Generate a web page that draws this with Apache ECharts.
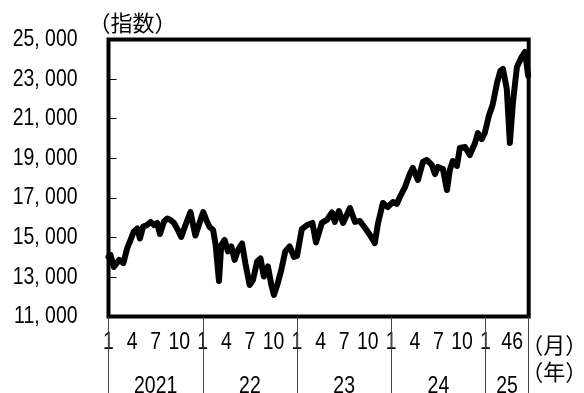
<!DOCTYPE html>
<html><head><meta charset="utf-8">
<script src="https://cdn.jsdelivr.net/npm/echarts@6/dist/echarts.min.js"></script>
<style>html,body{margin:0;padding:0;background:#fff}#c{width:584px;height:393px}</style>
</head><body><div id="c"></div>
<script>
const dates = [
'2021-01-01','2021-01-09','2021-01-22','2021-02-11','2021-02-26','2021-03-13','2021-03-26','2021-04-08','2021-04-21','2021-05-01',
'2021-05-14','2021-05-29','2021-06-12','2021-06-25','2021-07-07','2021-07-18','2021-08-03','2021-08-16','2021-08-29','2021-09-11',
'2021-09-26','2021-10-09','2021-10-26','2021-11-14','2021-12-03','2021-12-21','2022-01-03','2022-01-15','2022-01-28','2022-02-10',
'2022-02-19','2022-03-03','2022-03-12','2022-03-25','2022-04-07','2022-04-20','2022-05-03','2022-05-16','2022-06-01','2022-06-14',
'2022-06-30','2022-07-13','2022-07-30','2022-08-12','2022-08-25','2022-09-10','2022-09-23','2022-10-03','2022-10-16','2022-11-01',
'2022-11-16','2022-12-03','2022-12-20','2023-01-01','2023-01-20','2023-02-09','2023-02-28','2023-03-14','2023-04-06','2023-04-25',
'2023-05-15','2023-05-26','2023-06-11','2023-06-27','2023-07-24','2023-08-13','2023-09-01','2023-09-21','2023-10-10','2023-10-29',
'2023-11-10','2023-11-29','2023-12-18','2024-01-08','2024-01-23','2024-02-04','2024-02-23','2024-03-12','2024-03-24','2024-04-13',
'2024-05-02','2024-05-17','2024-06-06','2024-06-18','2024-06-29','2024-07-19','2024-08-04','2024-08-15','2024-08-27','2024-09-12',
'2024-09-23','2024-10-13','2024-11-01','2024-11-21','2024-12-02','2024-12-17','2024-12-29','2025-01-14','2025-01-29','2025-02-14',
'2025-02-26','2025-03-08','2025-03-23','2025-04-04','2025-04-16','2025-05-01','2025-05-20','2025-06-02','2025-06-14'
];
const values = [
14010,14110,13500,13860,13700,14460,14870,15300,15450,14940,
15550,15620,15780,15620,15730,15170,15800,15950,15880,15730,
15370,15020,15620,16280,15090,15800,16280,15880,15520,15370,
14610,12790,14610,14870,14290,14540,13860,14360,14690,13680,
12590,12840,13780,13930,13020,13530,12590,12090,12590,13350,
14290,14540,14010,14060,15420,15620,15730,14740,15730,15880,
16260,15780,16330,15730,16480,15780,15830,15470,15120,14710,
15680,16740,16530,16790,16690,17040,17550,18200,18510,17900,
18810,18910,18660,18200,18560,18450,17390,18400,18860,18610,
19520,19570,19160,19770,20270,19970,20270,21130,21690,22800,
23410,23510,22500,19770,21840,23610,24120,24370,23160
];
const yTicks = [11000,13000,15000,17000,19000,21000,23000,25000];
const yTickLabels = ['11, 000','13, 000','15, 000','17, 000','19, 000','21, 000','23, 000','25, 000'];
const monthTicks = ['2021-01','2021-04','2021-07','2021-10','2022-01','2022-04','2022-07','2022-10',
  '2023-01','2023-04','2023-07','2023-10','2024-01','2024-04','2024-07','2024-10','2025-01','2025-04','2025-06'];
const monthLabels = ['1','4','7','10','1','4','7','10','1','4','7','10','1','4','7','10','1','4','6'];
const yearStarts = ['2021-01','2022-01','2023-01','2024-01','2025-01'];
const yearLabels = ['2021','22','23','24','25'];
const rangeStart = '2021-01-01', rangeEnd = '2025-06-16';

function toM(s){
  const p = s.split('-').map(Number);
  const y = p[0], m = p[1], d = p[2] || 1;
  const dim = new Date(y, m, 0).getDate();
  return (y-2021)*12 + (m-1) + (d-1)/dim;
}
const xMin = toM(rangeStart), xMax = toM(rangeEnd);
const seriesData = dates.map((d,i)=>[toM(d), values[i]]);
const monthPos = monthTicks.map(toM);
const yearPos = yearStarts.map(toM);
const yearBounds = yearPos.concat([xMax]);
const yearMid = yearPos.map((p,i)=> (p + yearBounds[i+1])/2);

const NUM = "'Liberation Sans Narrow','Liberation Sans',Arial,sans-serif";
const CJK = "'Noto Sans CJK JP',sans-serif";
const SX = 0.81;

const chart = echarts.init(document.getElementById('c'), null, {renderer:'canvas'});
chart.setOption({
  animation:false,
  backgroundColor:'#fff',
  grid:{left:108.5, right:55.3, top:39.5, bottom:76.5, show:true, borderColor:'#000', borderWidth:4, backgroundColor:'transparent'},
  xAxis:[{
    type:'value', min:xMin, max:xMax, position:'bottom',
    axisLine:{show:false}, splitLine:{show:false}, axisTick:{show:false}, axisLabel:{show:false}
  },{
    type:'value', min:xMin, max:xMax, position:'bottom',
    axisLine:{show:false}, splitLine:{show:false},
    axisTick:{show:true, customValues:yearBounds, length:80, lineStyle:{color:'#444', width:1}},
    axisLabel:{show:false}
  }],
  yAxis:{
    type:'value', min:yTicks[0], max:yTicks[yTicks.length-1], interval:yTicks[1]-yTicks[0],
    axisLine:{show:false}, splitLine:{show:false},
    axisTick:{show:true, inside:true, length:8, lineStyle:{color:'#000', width:1}},
    axisLabel:{show:false}
  },
  series:[{
    type:'line', data:seriesData, symbol:'none', xAxisIndex:0,
    lineStyle:{color:'#000', width:6, join:'round', cap:'round'},
    z:3
  }]
});

// tick labels placed through the axes' own scales (condensed horizontally)
const g = [];
const x0 = chart.convertToPixel({xAxisIndex:0}, xMin);
const yBottom = chart.convertToPixel({yAxisIndex:0}, yTicks[0]);
const yTop = chart.convertToPixel({yAxisIndex:0}, yTicks[yTicks.length-1]);
function numText(text, x, y, align){
  return {type:'text', x:x, y:y, scaleX:SX, silent:true,
    style:{text:text, align:align, verticalAlign:'middle', fontSize:24, fontFamily:NUM, fill:'#000'}};
}
yTicks.forEach((v,i)=>{
  g.push(numText(yTickLabels[i], x0 - 31, chart.convertToPixel({yAxisIndex:0}, v), 'right'));
});
monthPos.forEach((m,i)=>{
  const n = monthPos.length;
  const px = chart.convertToPixel({xAxisIndex:0}, m);
  const shift = i === n-1 ? -7 : (i === n-2 ? -2.5 : 0);
  g.push(numText(monthLabels[i], px + shift, yBottom + 25.5, 'center'));
});
yearMid.forEach((m,i)=>{
  g.push(numText(yearLabels[i], chart.convertToPixel({xAxisIndex:0}, m), yBottom + 69.5, 'center'));
});
const xEnd = chart.convertToPixel({xAxisIndex:0}, xMax);
g.push({type:'text', x:x0 + 24, y:yTop - 16.5, silent:true, style:{text:'（指数）', align:'center', verticalAlign:'middle', font:'22px '+CJK, fill:'#000'}});
g.push({type:'text', x:xEnd + 25.5, y:yBottom + 28.5, silent:true, style:{text:'（月）', align:'center', verticalAlign:'middle', font:'22px '+CJK, fill:'#000'}});
g.push({type:'text', x:xEnd + 25.5, y:yBottom + 55, silent:true, style:{text:'（年）', align:'center', verticalAlign:'middle', font:'22px '+CJK, fill:'#000'}});
chart.setOption({graphic:g});
</script></body></html>
